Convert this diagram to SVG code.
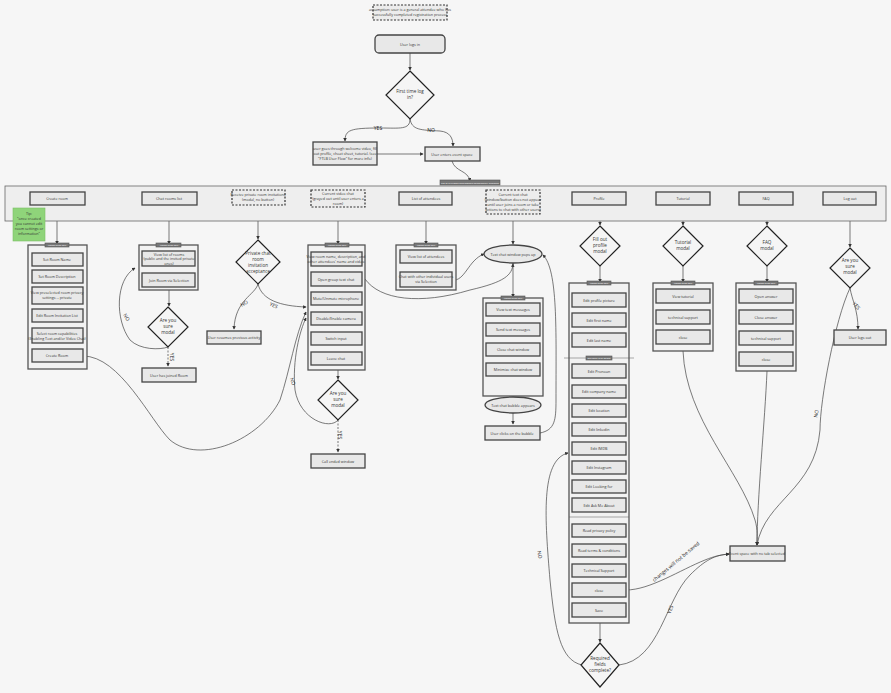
<svg xmlns="http://www.w3.org/2000/svg" width="891" height="693" viewBox="0 0 891 693">
<defs>
<style>
text{font-family:"Open Sans","Liberation Sans",sans-serif;font-size:3.7px;fill:#333;text-anchor:middle}
.b{fill:#e8e8e8;stroke:#444;stroke-width:1.3}
.c{fill:#f2f2f2;stroke:#555;stroke-width:1.3}
.d{fill:#ececec;stroke:#333;stroke-width:1.2;stroke-dasharray:2 1.5}
.dm{fill:#f5f5f5;stroke:#222;stroke-width:1.2}
.hd{fill:#777;stroke:#555;stroke-width:.6}
.ht{fill:#fff;font-size:2.5px}
.l{fill:none;stroke:#444;stroke-width:.7}
.da{stroke-dasharray:2 1.5}
.lb{font-size:5px;fill:#222}
.dt{font-size:4.6px}
</style>
<marker id="a" viewBox="0 0 6 6" refX="5" refY="3" markerWidth="5" markerHeight="5" orient="auto"><path d="M0,0L6,3L0,6z" fill="#333"/></marker>
</defs>
<rect width="891" height="693" fill="#f6f6f6"/>
<g id="connectors" marker-end="url(#a)">
<path class="l" d="M410,53V70"/>
<path class="l" d="M410,119C410,130 400,128 380,128C350,128 345,130 345,141"/>
<path class="l" d="M410,119C412,130 420,130 440,131C450,132 453,138 453,146"/>
<path class="l" d="M377,154H423"/>
<path class="l" d="M452,161C455,172 468,170 470,181"/>
<path class="l" d="M57,205V244"/>
<path class="l" d="M169,205V244"/>
<path class="l" d="M258,205V239"/>
<path class="l" d="M338,207V244"/>
<path class="l" d="M426,205V244"/>
<path class="l" d="M513,214V244"/>
<path class="l" d="M600,205V225"/>
<path class="l" d="M683,205V225"/>
<path class="l" d="M767,205V225"/>
<path class="l" d="M850,205V247"/>
<path class="l" d="M169,290V306"/>
<path class="l da" d="M168,347V366"/>
<path class="l" d="M168,347C160,350 140,350 130,340C115,320 115,280 135,268"/>
<path class="l" d="M258,284C255,295 235,300 234,329"/>
<path class="l" d="M258,284C262,300 280,306 306,307"/>
<path class="l" d="M338,370V379"/>
<path class="l da" d="M338,420V452"/>
<path class="l" d="M338,420C330,430 300,420 295,390C292,360 300,330 306,318"/>
<path class="l" d="M83,356C120,356 150,420 170,440C200,465 260,440 280,400C290,370 295,335 306,312"/>
<path class="l" d="M365,279C380,300 420,305 470,290C505,282 512,275 513,264"/>
<path class="l" d="M452,280C465,282 468,260 484,254"/>
<path class="l" d="M513,264V297" marker-start="url(#a)"/>
<path class="l" d="M513,382V396"/>
<path class="l" d="M513,413V424"/>
<path class="l" d="M540,433C555,430 556,420 556,400C556,330 558,270 543,255"/>
<path class="l" d="M600,266V282"/>
<path class="l" d="M683,266V282"/>
<path class="l" d="M767,266V282"/>
<path class="l" d="M850,288C852,300 858,310 858,329"/>
<path class="l" d="M600,623V642"/>
<path class="l" d="M582,665C560,660 555,630 550,580C545,520 540,460 568,453"/>
<path class="l" d="M626,590C650,590 680,570 705,560C715,556 720,555 729,554"/>
<path class="l" d="M619,665C660,660 665,600 690,575C705,560 715,555 729,554"/>
<path class="l" d="M683,351C686,420 740,470 755,520C758,530 757,538 757,545"/>
<path class="l" d="M767,371C765,420 757,500 757,545"/>
<path class="l" d="M850,288C835,320 820,400 820,430C815,490 765,500 757,545"/>
</g>
<g id="edge-labels">
<text class="lb" x="378" y="130">YES</text>
<text class="lb" x="431" y="132">NO</text>
<text class="lb" transform="translate(125,318) rotate(60)">NO</text>
<text class="lb" transform="translate(170,357) rotate(90)">YES</text>
<text class="lb" transform="translate(245,305) rotate(-30)">NO</text>
<text class="lb" transform="translate(273,307) rotate(25)">YES</text>
<text class="lb" transform="translate(291,382) rotate(70)">NO</text>
<text class="lb" transform="translate(338,435) rotate(90)">YES</text>
<text class="lb" transform="translate(538,555) rotate(80)">NO</text>
<text class="lb" transform="translate(677,563) rotate(-40)">changes will not be saved</text>
<text class="lb" transform="translate(672,610) rotate(-70)">YES</text>
<text class="lb" transform="translate(818,414) rotate(-80)">NO</text>
<text class="lb" transform="translate(855,307) rotate(50)">YES</text>
</g>
<g id="assumption"><rect class="d" x="373" y="5" width="74" height="15"/><text x="410" y="11">assumption: user is a general attendee who has</text><text x="410" y="16">successfully completed registration process</text></g>
<g id="login"><rect class="b" x="375" y="35" width="70" height="18" rx="4"/><text x="410" y="45.5">User logs in</text></g>
<g id="first"><path class="dm" d="M410,71L434,95L410,119L386,95z"/><text class="dt" x="410" y="93">First time log</text><text class="dt" x="410" y="99">in?</text></g>
<g id="welcome"><rect class="b" x="313" y="142" width="64" height="23"/><text x="345" y="150">user goes through welcome video, fill</text><text x="345" y="155">out profile, cheat sheet, tutorial. (see</text><text x="345" y="160">"FTLB User Flow" for more info)</text></g>
<g id="enters"><rect class="b" x="425" y="147" width="55" height="14"/><text x="452" y="155.5">User enters event space</text></g>
<g id="band"><rect x="5" y="186" width="881" height="35" fill="#eeeeee" stroke="#666" stroke-width=".8"/><rect class="hd" x="440" y="180" width="60" height="5"/><text class="ht" x="470" y="183.5">List of buttons/tabs/modals immediately available</text></g>
<g id="btn-create"><rect class="b" x="30" y="192" width="55" height="13"/><text x="57" y="200">Create room</text></g>
<g id="btn-chatrooms"><rect class="b" x="142" y="192" width="55" height="13"/><text x="169" y="200">Chat rooms list</text></g>
<g id="btn-private"><rect class="d" x="232" y="190" width="53" height="15"/><text x="258" y="196">Receive private room invitations</text><text x="258" y="201">(modal, no button)</text></g>
<g id="btn-video"><rect class="d" x="311" y="190" width="54" height="17"/><text x="338" y="195">Current video chat</text><text x="338" y="200">(grayed out until user enters a</text><text x="338" y="205">room)</text></g>
<g id="btn-attendees"><rect class="b" x="399" y="192" width="53" height="13"/><text x="426" y="200">List of attendees</text></g>
<g id="btn-textchat"><rect class="d" x="486" y="190" width="54" height="24"/><text x="513" y="195.5">Current text chat</text><text x="513" y="200.5">(window/button does not appear</text><text x="513" y="205.5">until user joins a room or take</text><text x="513" y="210.5">actions to chat with other users)</text></g>
<g id="btn-profile"><rect class="b" x="572" y="192" width="54" height="13"/><text x="599" y="200">Profile</text></g>
<g id="btn-tutorial"><rect class="b" x="656" y="192" width="54" height="13"/><text x="683" y="200">Tutorial</text></g>
<g id="btn-faq"><rect class="b" x="739" y="192" width="54" height="13"/><text x="766" y="200">FAQ</text></g>
<g id="btn-logout"><rect class="b" x="823" y="192" width="53" height="13"/><text x="850" y="200">Log out</text></g>
<g id="tip"><rect x="13" y="208" width="32" height="33" fill="#8fd47a" stroke="#7cbf66" stroke-width=".6"/><text x="29" y="215">Tip:</text><text x="29" y="220">"once created</text><text x="29" y="225">you cannot edit</text><text x="29" y="230">room settings or</text><text x="29" y="235">information"</text></g>
<g id="create-box"><rect class="c" x="28" y="245" width="59" height="124"/><rect class="hd" x="45" y="243" width="24" height="4"/><text class="ht" x="57" y="246">Modal Slide-Out</text>
<rect class="b" x="32" y="253" width="51" height="13"/><text x="57" y="261">Set Room Name</text>
<rect class="b" x="32" y="270" width="51" height="13"/><text x="57" y="278">Set Room Description</text>
<rect class="b" x="32" y="287" width="51" height="17"/><text x="57" y="294">View preselected room privacy</text><text x="57" y="299">settings -- private</text>
<rect class="b" x="32" y="309" width="51" height="13"/><text x="57" y="317">Edit Room Invitation List</text>
<rect class="b" x="32" y="328" width="51" height="15"/><text x="57" y="334.5">Select room capabilities</text><text x="57" y="339.5">(Enabling Text and/or Video Chat)</text>
<rect class="b" x="32" y="349" width="51" height="13"/><text x="57" y="357">Create Room</text></g>
<g id="chatrooms-box"><rect class="c" x="139" y="245" width="59" height="45"/><rect class="hd" x="156" y="243" width="25" height="4"/><text class="ht" x="169" y="246">Modal Slide-Out</text>
<rect class="b" x="142" y="251" width="53" height="15"/><text x="169" y="255.5">View list of rooms</text><text x="169" y="260">(public and the invited private</text><text x="169" y="264.5">ones)</text>
<rect class="b" x="142" y="273" width="53" height="14"/><text x="169" y="281.5">Join Room via Selection</text></g>
<g id="sure1"><path class="dm" d="M168,307L188,327L168,347L148,327z"/><text class="dt" x="168" y="322">Are you</text><text class="dt" x="168" y="328">sure</text><text class="dt" x="168" y="334">modal</text></g>
<g id="joined"><rect class="b" x="142" y="368" width="54" height="14"/><text x="169" y="376.5">User has joined Room</text></g>
<g id="private"><path class="dm" d="M258,240L280,262L258,284L236,262z"/><text class="dt" x="258" y="255">Private chat</text><text class="dt" x="258" y="261">room</text><text class="dt" x="258" y="267">invitation</text><text class="dt" x="258" y="273">acceptance</text></g>
<g id="resumes"><rect class="b" x="207" y="331" width="54" height="13"/><text x="234" y="339">User resumes previous activity</text></g>
<g id="video-box"><rect class="c" x="308" y="245" width="57" height="125"/><rect class="hd" x="325" y="243" width="24" height="4"/><text class="ht" x="337" y="246">Modal Slide-Out</text>
<rect class="b" x="311" y="252" width="51" height="14"/><text x="336" y="258">View room name, description, and</text><text x="336" y="263">other attendees' name and video</text>
<rect class="b" x="311" y="272" width="51" height="14"/><text x="336" y="280.5">Open group text chat</text>
<rect class="b" x="311" y="292" width="51" height="13"/><text x="336" y="300">Mute/Unmute microphone</text>
<rect class="b" x="311" y="312" width="51" height="13"/><text x="336" y="320">Disable/Enable camera</text>
<rect class="b" x="311" y="332" width="51" height="13"/><text x="336" y="340">Switch input</text>
<rect class="b" x="311" y="352" width="51" height="13"/><text x="336" y="360">Leave chat</text></g>
<g id="sure2"><path class="dm" d="M338,380L358,400L338,420L318,400z"/><text class="dt" x="338" y="395">Are you</text><text class="dt" x="338" y="401">sure</text><text class="dt" x="338" y="407">modal</text></g>
<g id="callended"><rect class="b" x="311" y="454" width="54" height="14"/><text x="338" y="462.5">Call ended window</text></g>
<g id="attendees-box"><rect class="c" x="396" y="245" width="60" height="45"/><rect class="hd" x="414" y="243" width="24" height="4"/><text class="ht" x="426" y="246">Modal Slide-Out</text>
<rect class="b" x="400" y="250" width="52" height="13"/><text x="426" y="258">View list of attendees</text>
<rect class="b" x="400" y="272" width="52" height="15"/><text x="426" y="278">Chat with other individual users</text><text x="426" y="283">via Selection</text></g>
<g id="textpop"><ellipse class="b" cx="513" cy="254" rx="29" ry="9"/><text x="513" y="256">Text chat window pops up</text></g>
<g id="text-box"><rect class="c" x="483" y="298" width="60" height="98"/><rect class="hd" x="501" y="296" width="24" height="4"/><text class="ht" x="513" y="299">Modal Slide-Out</text>
<rect class="b" x="486" y="303" width="54" height="13"/><text x="513" y="311">View text messages</text>
<rect class="b" x="486" y="323" width="54" height="13"/><text x="513" y="331">Send text messages</text>
<rect class="b" x="486" y="343" width="54" height="13"/><text x="513" y="351">Close chat window</text>
<rect class="b" x="486" y="363" width="54" height="13"/><text x="513" y="371">Minimize chat window</text></g>
<g id="bubble"><ellipse class="b" cx="513" cy="405" rx="28" ry="8"/><text x="513" y="407">Text chat bubble appears</text></g>
<g id="clicks"><rect class="b" x="485" y="426" width="55" height="14"/><text x="512" y="434.5">User clicks on the bubble</text></g>
<g id="profile-d"><path class="dm" d="M600,226L620,246L600,266L580,246z"/><text class="dt" x="600" y="241">Fill out</text><text class="dt" x="600" y="247">profile</text><text class="dt" x="600" y="253">modal</text></g>
<g id="profile-box"><rect class="c" x="569" y="283" width="60" height="340"/><rect class="hd" x="587" y="281" width="24" height="4"/><text class="ht" x="599" y="284">Modal Slide-Out</text>
<rect class="b" x="572" y="293" width="54" height="14"/><text x="599" y="301.5">Edit profile picture</text>
<rect class="b" x="572" y="313" width="54" height="14"/><text x="599" y="321.5">Edit first name</text>
<rect class="b" x="572" y="333" width="54" height="14"/><text x="599" y="341.5">Edit last name</text>
<line x1="564" y1="358" x2="634" y2="358" stroke="#555" stroke-width=".5"/><rect class="hd" x="586" y="356" width="26" height="4"/><text class="ht" x="599" y="359">Optional info Below</text>
<rect class="b" x="572" y="364" width="54" height="14"/><text x="599" y="372.5">Edit Pronoun</text>
<rect class="b" x="572" y="385" width="54" height="13"/><text x="599" y="393">Edit company name</text>
<rect class="b" x="572" y="404" width="54" height="13"/><text x="599" y="412">Edit location</text>
<rect class="b" x="572" y="423" width="54" height="13"/><text x="599" y="431">Edit linkedin</text>
<rect class="b" x="572" y="442" width="54" height="13"/><text x="599" y="450">Edit IMDB</text>
<rect class="b" x="572" y="461" width="54" height="13"/><text x="599" y="469">Edit Instagram</text>
<rect class="b" x="572" y="480" width="54" height="13"/><text x="599" y="488">Edit Looking for</text>
<rect class="b" x="572" y="498" width="54" height="14"/><text x="599" y="506.5">Edit Ask Me About</text>
<line x1="569" y1="517" x2="629" y2="517" stroke="#555" stroke-width=".5"/>
<rect class="b" x="572" y="524" width="54" height="13"/><text x="599" y="532">Read privacy policy</text>
<rect class="b" x="572" y="544" width="54" height="13"/><text x="599" y="552">Read terms &amp; conditions</text>
<rect class="b" x="572" y="564" width="54" height="13"/><text x="599" y="572">Technical Support</text>
<rect class="b" x="572" y="583" width="54" height="14"/><text x="599" y="591.5">close</text>
<rect class="b" x="572" y="603" width="54" height="14"/><text x="599" y="611.5">Save</text></g>
<g id="required"><path class="dm" d="M600,643L619,665L600,687L581,665z"/><text class="dt" x="600" y="660">Required</text><text class="dt" x="600" y="666">fields</text><text class="dt" x="600" y="672">complete?</text></g>
<g id="tutorial-d"><path class="dm" d="M683,226L703,246L683,266L663,246z"/><text class="dt" x="683" y="244">Tutorial</text><text class="dt" x="683" y="250">modal</text></g>
<g id="tutorial-box"><rect class="c" x="653" y="283" width="60" height="68"/><rect class="hd" x="671" y="281" width="24" height="4"/><text class="ht" x="683" y="284">Modal Slide-Out</text>
<rect class="b" x="656" y="289" width="54" height="14"/><text x="683" y="297.5">View tutorial</text>
<rect class="b" x="656" y="310" width="54" height="14"/><text x="683" y="318.5">technical support</text>
<rect class="b" x="656" y="330" width="54" height="14"/><text x="683" y="338.5">close</text></g>
<g id="faq-d"><path class="dm" d="M767,226L787,246L767,266L747,246z"/><text class="dt" x="767" y="244">FAQ</text><text class="dt" x="767" y="250">modal</text></g>
<g id="faq-box"><rect class="c" x="736" y="283" width="60" height="88"/><rect class="hd" x="754" y="281" width="24" height="4"/><text class="ht" x="766" y="284">Modal Slide-Out</text>
<rect class="b" x="739" y="289" width="54" height="14"/><text x="766" y="297.5">Open answer</text>
<rect class="b" x="739" y="310" width="54" height="14"/><text x="766" y="318.5">Close answer</text>
<rect class="b" x="739" y="331" width="54" height="14"/><text x="766" y="339.5">technical support</text>
<rect class="b" x="739" y="352" width="54" height="14"/><text x="766" y="360.5">close</text></g>
<g id="logout-d"><path class="dm" d="M850,248L870,268L850,288L830,268z"/><text class="dt" x="850" y="262">Are you</text><text class="dt" x="850" y="268">sure</text><text class="dt" x="850" y="274">modal</text></g>
<g id="logsout"><rect class="b" x="834" y="330" width="52" height="15"/><text x="860" y="339">User logs out</text></g>
<g id="eventspace"><rect class="b" x="730" y="546" width="55" height="15"/><text x="757" y="555">Event space with no tab selected</text></g>
</svg>
